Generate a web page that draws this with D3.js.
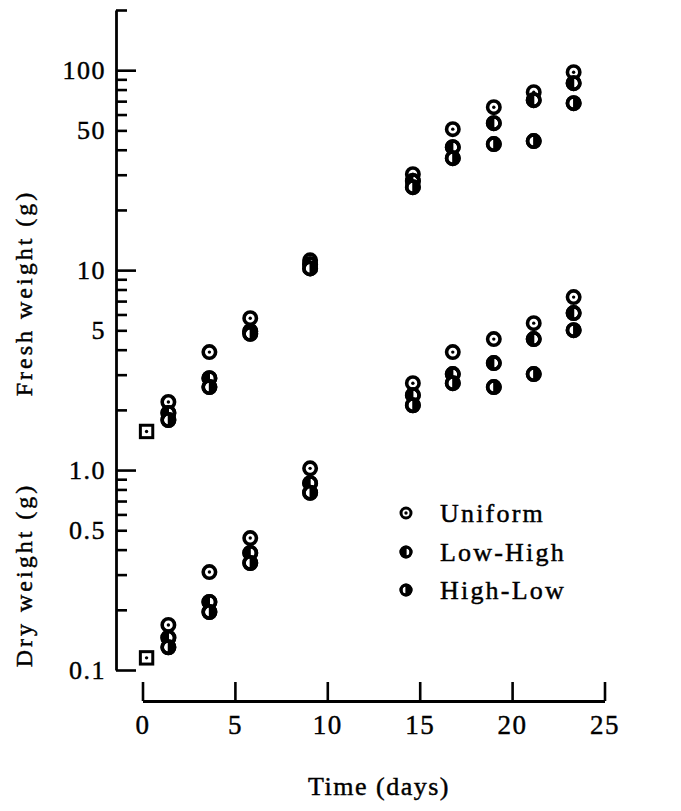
<!DOCTYPE html>
<html><head><meta charset="utf-8">
<script src="https://cdn.jsdelivr.net/npm/d3@7"></script>
<style>
body{margin:0;background:#fff}
svg text{font-family:"Liberation Serif","Times New Roman",serif;fill:#000;stroke:#000;stroke-width:0.45px}
</style>
</head><body>
<svg id="c" width="681" height="811"></svg>
<script>
// ---- data ----
const sampleDays = [1.40, 3.62, 5.83, 9.07, 14.63, 16.79, 19.01, 21.17, 23.33];
const initialDay = [0.22];
const initialFresh = [1.56];
const initialDry = [0.115];
const freshUniform = [2.19, 3.89, 5.75, 11.2, 30.2, 50.7, 65.3, 77.6, 97.7];
const freshLowHigh = [1.93, 2.88, 4.95, 10.7, 27.9, 41.2, 54.3, 70.8, 86.1];
const freshHighLow = [1.78, 2.60, 4.80, 10.2, 26.0, 36.3, 42.7, 44.2, 68.4];
const dryUniform = [0.168, 0.309, 0.457, 1.02, 2.72, 3.89, 4.52, 5.43, 7.33];
const dryLowHigh = [0.145, 0.219, 0.385, 0.86, 2.37, 3.02, 3.43, 4.52, 6.10];
const dryHighLow = [0.130, 0.195, 0.343, 0.77, 2.11, 2.72, 2.60, 3.02, 5.01];
const xTicks = [0, 5, 10, 15, 20, 25];
const yLabelTicks = [0.1, 0.5, 1, 5, 10, 50, 100];
const yLabelText = ["0.1", "0.5", "1.0", "5", "10", "50", "100"];
const yMajorTicks = [0.1, 1, 10, 100];
const yMinorTicks = [0.2,0.3,0.4,0.5,0.6,0.7,0.8,0.9,2,3,4,5,6,7,8,9,20,30,40,50,60,70,80,90,200];
const legendLabels = ["Uniform", "Low-High", "High-Low"];
const legendTypes = ["uniform", "lowhigh", "highlow"];

// ---- drawing ----
const svg = d3.select("#c");
const x = d3.scaleLinear().domain([0, 25]).range([142.5, 604.5]);
const y = d3.scaleLog().domain([0.1, 200]).range([670, 10]);
const AX = 116;

function styleAxis(g){
  g.attr("font-family", null).attr("font-size", null);
  g.selectAll("path.domain").attr("stroke", "#000").attr("stroke-width", 2.8);
  g.selectAll(".tick line").attr("stroke", "#000").attr("stroke-width", 2.6);
  g.selectAll(".tick text").style("font-size", "26px").style("letter-spacing", "1.5px");
}

svg.append("g").attr("transform", `translate(${AX},0)`)
  .call(d3.axisLeft(y).tickValues(yMinorTicks).tickSizeInner(-11).tickSizeOuter(0).tickFormat(""))
  .call(styleAxis);
svg.append("g").attr("transform", `translate(${AX},0)`)
  .call(d3.axisLeft(y).tickValues(yMajorTicks).tickSizeInner(-20).tickSizeOuter(0).tickFormat(""))
  .call(g => g.select(".domain").remove())
  .call(styleAxis);
svg.append("g").attr("transform", `translate(${AX},0)`)
  .call(d3.axisLeft(y).tickValues(yLabelTicks).tickSize(0).tickPadding(10)
        .tickFormat(d => yLabelText[yLabelTicks.indexOf(d)]))
  .call(g => g.select(".domain").remove())
  .call(styleAxis);

svg.append("g").attr("transform", "translate(0,701)")
  .call(d3.axisBottom(x).tickValues(xTicks).tickSizeInner(-19).tickSizeOuter(0).tickPadding(14))
  .call(styleAxis)
  .call(g => g.selectAll(".tick text").style("font-size", "27px").style("letter-spacing", "1.5px"));

// axis titles
svg.append("text").attr("transform", "translate(32,293) rotate(-90)")
  .attr("text-anchor", "middle").style("font-size", "24px").style("letter-spacing", "3px")
  .text("Fresh weight (g)");
svg.append("text").attr("transform", "translate(32,575) rotate(-90)")
  .attr("text-anchor", "middle").style("font-size", "24px").style("letter-spacing", "3px")
  .text("Dry weight (g)");
svg.append("text").attr("x", 379).attr("y", 795)
  .attr("text-anchor", "middle").style("font-size", "26px").style("letter-spacing", "1.5px")
  .text("Time (days)");

// markers
function marker(g, type, r, sw){
  if (type === "square"){
    g.append("rect").attr("x", -r).attr("y", -r).attr("width", 2*r).attr("height", 2*r)
      .attr("fill", "#fff").attr("stroke", "#000").attr("stroke-width", sw);
    g.append("circle").attr("r", 1.7).attr("fill", "#000");
    return;
  }
  g.append("circle").attr("r", r).attr("fill", "#fff").attr("stroke", "#000").attr("stroke-width", sw);
  if (type === "uniform"){
    g.append("circle").attr("r", 1.7).attr("fill", "#000");
  } else {
    const half = type === "lowhigh"
      ? `M0.6,${-r} A${r},${r} 0 0 0 0.6,${r} Z`
      : `M-0.6,${-r} A${r},${r} 0 0 1 -0.6,${r} Z`;
    g.append("path").attr("d", half).attr("fill", "#000");
    g.append("circle").attr("r", r).attr("fill", "none").attr("stroke", "#000").attr("stroke-width", sw);
  }
}

function drawSeries(values, days, type, r, sw){
  const pts = values.map((v, i) => ({d: days[i], v}));
  svg.append("g").selectAll("g").data(pts).join("g")
    .attr("transform", p => `translate(${x(p.d)},${y(p.v)})`)
    .each(function(){ marker(d3.select(this), type, r, sw); });
}

const R = 6.2, SW = 3.6;
drawSeries(freshUniform, sampleDays, "uniform", R, SW);
drawSeries(freshLowHigh, sampleDays, "lowhigh", R, SW);
drawSeries(freshHighLow, sampleDays, "highlow", R, SW);
drawSeries(dryUniform, sampleDays, "uniform", R, SW);
drawSeries(dryLowHigh, sampleDays, "lowhigh", R, SW);
drawSeries(dryHighLow, sampleDays, "highlow", R, SW);
drawSeries(initialFresh, initialDay, "square", 6.2, 3);
drawSeries(initialDry, initialDay, "square", 6.2, 3);

// legend
const legY = [513, 552, 590];
const lg = svg.append("g").selectAll("g").data(legendLabels).join("g")
  .attr("transform", (d, i) => `translate(0,${legY[i]})`);
lg.each(function(d, i){
  const m = d3.select(this).append("g").attr("transform", "translate(406,0)");
  marker(m, legendTypes[i], 5, 3);
});
lg.append("text").attr("x", 440).attr("y", 9).style("font-size", "26px").style("letter-spacing", "2.2px")
  .text(d => d);
</script>
</body></html>
